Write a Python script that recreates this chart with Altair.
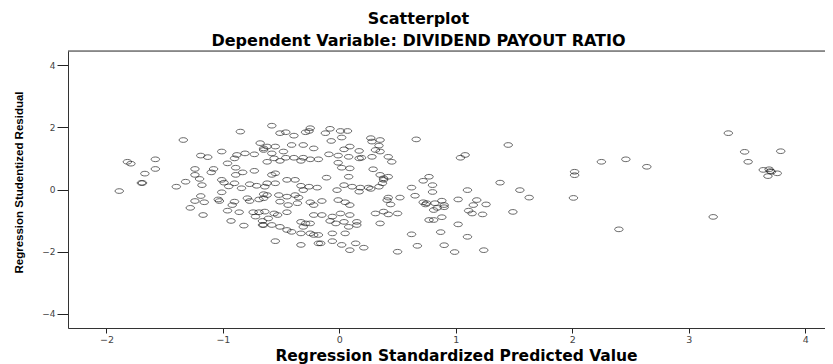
import altair as alt
import pandas as pd

# Regression Standardized Predicted Value
pred = [
    -0.85, -1.34, -1.82, -1.79, -1.58, -1.58, -1.67, -1.70, -1.69, -1.89,
    -1.40, -1.32, -1.19, -1.13, -1.01, -1.24, -1.24, -1.20, -1.18, -1.08,
    -1.10, -1.19, -1.24, -1.16, -1.28, -1.17, -1.01, -0.99, -1.01, -1.04,
    -1.03, -0.92, -0.90, -0.96, -0.86, -0.93, -0.82, -0.96, -0.90, -0.88,
    -0.81, -0.73, -0.89, -0.83, -0.89, -0.73, -0.95, -0.90, -0.84, -0.77,
    -0.71, -0.79, -0.77, -0.69, -0.74, -0.69, -0.72, -0.66, -0.68, -0.65,
    -0.66, -0.65,
    -0.58, -0.51, -0.46, -0.39, -0.25, -0.26, -0.29, -0.08, -0.12, 0.01,
    0.07, -0.07, 0.02, 0.66, 0.27, 0.35, 0.28, 0.34, -0.62, -0.55,
    -0.65, -0.41, -0.31, -0.22, -0.48, -0.58, 0.04, 0.09, 0.17, 0.31,
    0.35, -0.56, -0.46, -0.39, -0.31, -0.25, -0.18, -0.09, -0.01, 0.08,
    0.17, 0.19, 0.28, 0.42, 0.45, -0.51, -0.62, -0.33, -0.01, 0.09,
    0.02, -0.11, 0.08, 0.29, 0.35, 0.38, 0.42, -0.55, -0.58, -0.45,
    -0.38, -0.62, -0.55, -0.64, -0.33, -0.26, -0.19, -0.31, 0.04, 0.11,
    0.18, 0.25, 0.34, 0.37, 0.38, -0.02, 0.17, 0.27, 0.62, 0.72,
    0.77, 0.42, 0.52, 0.44, 0.65, 0.72, 0.74, -0.52, -0.45, -0.38,
    -0.35, -0.62, -0.65, -0.51, -0.44, -0.36, -0.25, -0.22, -0.15, -0.01,
    0.05, 0.09, -0.64, -0.56, -0.61, -0.53, -0.45, -0.65, -0.58, -0.51,
    -0.45, -0.33, -0.29, -0.31, -0.25, -0.22, -0.15, -0.06, 0.01, -0.08,
    -0.03, 0.09, 0.04, 0.15, 0.15, 0.08, 0.31, 0.38, 0.42, 0.50,
    0.35, -0.41, -0.33, -0.25, -0.22, -0.18, -0.06, 0.05, -0.55, -0.33,
    -0.18, -0.16, -0.06, 0.02, 0.14, 0.21, 0.09, 0.50, 0.62, 0.67,
    0.77,
    1.45, 1.04, 1.08, 0.80, 0.80, 1.10, 1.38, 1.55, 1.63, 0.41,
    0.75, 0.82, 0.88, 0.90, 0.90, 1.02, 1.18, 1.15, 1.26, 0.81,
    0.84, 1.11, 1.14, 1.23, 1.49, 0.81, 0.88, 1.02, 0.87, 1.10,
    0.90, 0.99, 1.24,
    3.34, 3.48, 3.51, 3.79, 3.64, 3.69, 3.71, 3.76, 3.68, 3.70,
    3.21, 2.25, 2.46, 2.64, 2.02, 2.02, 2.01, 2.40,
]

# Regression Studentized Residual
resid = [
    1.86, 1.59, 0.89, 0.83, 0.97, 0.66, 0.51, 0.21, 0.21, -0.05,
    0.09, 0.25, 1.09, 1.04, 1.22, 0.66, 0.47, 0.34, 0.14, 0.66,
    0.55, -0.21, -0.37, -0.41, -0.59, -0.82, 0.31, 0.22, -0.09, -0.32,
    -0.37, -0.50, -0.39, -0.68, -0.73, -1.01, -1.16, 0.84, 1.00, 1.11,
    1.16, 1.13, 0.70, 0.55, 0.47, 0.60, 0.10, 0.20, 0.04, 0.17,
    0.12, -0.28, -0.37, -0.32, -0.73, -0.73, -0.87, -1.01, 1.49, 1.32,
    -1.14, -0.15,
    2.05, 1.81, 1.84, 1.73, 1.97, 1.88, 1.84, 1.95, 1.81, 1.88,
    1.88, 1.56, 1.67, 1.61, 1.65, 1.59, 1.54, 1.41, 1.38, 1.38,
    1.27, 1.43, 1.43, 1.32, 1.22, 1.16, 1.29, 1.38, 1.24, 1.27,
    1.22, 1.00, 1.02, 1.02, 1.02, 0.97, 0.97, 1.13, 1.09, 1.05,
    1.00, 1.02, 1.05, 1.05, 0.89, 0.92, 0.89, 0.92, 0.86, 0.68,
    0.70, 0.38, 0.41, 0.65, 0.47, 0.36, 0.41, 0.52, 0.47, 0.31,
    0.31, 0.20, 0.20, 0.09, 0.12, 0.09, 0.06, -0.02, 0.14, 0.09,
    0.06, 0.06, 0.09, 0.20, 0.31, -0.02, -0.07, 0.02, 0.06, 0.28,
    0.41, -0.26, -0.26, -0.48, -0.20, -0.41, -0.48, -0.18, -0.23, -0.18,
    -0.26, -0.18, -0.28, -0.39, -0.50, -0.44, -0.41, -0.50, -0.37, -0.34,
    -0.41, -0.50, -0.71, -0.77, -0.93, -0.82, -0.73, -1.14, -1.14, -1.20,
    -1.30, -1.04, -1.09, -1.20, -1.09, -0.82, -0.82, -0.87, -0.77, -1.01,
    -1.09, -0.82, -1.04, -1.04, -1.14, -1.20, -0.77, -0.71, -0.80, -0.77,
    -1.09, -1.36, -1.41, -1.41, -1.46, -1.46, -1.41, -1.41, -1.66, -1.78,
    -1.73, -1.73, -1.66, -1.78, -1.73, -1.87, -1.95, -2.00, -1.44, -1.81,
    -0.98,
    1.43, 1.02, 1.11, 0.14, -0.08, -0.02, 0.22, -0.02, -0.26, -0.34,
    -0.44, -0.44, -0.36, -0.50, -0.57, -0.32, -0.34, -0.50, -0.48, -0.66,
    -0.59, -0.68, -0.77, -0.80, -0.72, -0.98, -0.89, -1.12, -1.37, -1.52,
    -1.79, -2.01, -1.95,
    1.81, 1.21, 0.89, 1.23, 0.63, 0.65, 0.57, 0.52, 0.43, 0.59,
    -0.88, 0.89, 0.97, 0.73, 0.57, 0.46, -0.27, -1.28,
]

x_ticks = [-2, -1, 0, 1, 2, 3, 4]
y_ticks = [-4, -2, 0, 2, 4]

df = pd.DataFrame({"pred": pred, "resid": resid})

ellipse = "M-1,0A1,0.55,0,1,1,1,0A1,0.55,0,1,1,-1,0Z"

W, H = 757, 277

points = alt.Chart(df).mark_point(
    shape=ellipse, filled=False, size=72, stroke="#111111",
    strokeWidth=1, strokeOpacity=0.9,
).encode(
    x=alt.X("pred:Q",
            scale=alt.Scale(domain=[-2.33, 4.17], nice=False, zero=False),
            axis=alt.Axis(values=x_ticks, title="Regression Standardized Predicted Value",
                          labelFont="DejaVu Sans", labelFontSize=9.5, labelColor="#444444",
                          labelPadding=1, tickSize=5, tickColor="#222222",
                          domainColor="#333333", grid=False,
                          titleFont="DejaVu Sans", titleFontSize=15.5, titleFontWeight="bold",
                          titleColor="#000000", titleX=388, titleY=27,
                          titleAlign="center", titleBaseline="middle", titleAnchor="start")),
    y=alt.Y("resid:Q",
            scale=alt.Scale(domain=[-4.45, 4.45], nice=False, zero=False),
            axis=alt.Axis(values=y_ticks, title="Regression Studentized Residual",
                          labelFont="DejaVu Sans", labelFontSize=9, labelColor="#444444",
                          labelPadding=2, tickSize=11, tickColor="#222222",
                          domainColor="#333333", grid=False,
                          titleFont="Liberation Sans", titleFontSize=11.5, titleFontWeight="bold",
                          titleColor="#000000", titleX=-49, titleY=131, titleAngle=270,
                          titleAlign="center", titleBaseline="middle", titleAnchor="start")),
)

top_border = alt.Chart(pd.DataFrame({"k": [0]})).mark_rule(
    color="#333333", strokeWidth=1
).encode(x=alt.value(0), x2=alt.value(W), y=alt.value(0))

chart = alt.layer(points, top_border).properties(
    width=W, height=H,
    autosize=alt.AutoSizeParams(type="none"),
    padding={"left": 60, "top": 43, "right": 0, "bottom": 36},
    title=alt.TitleParams(
        text=["Scatterplot", "Dependent Variable: DIVIDEND PAYOUT RATIO"],
        font="DejaVu Sans", fontSize=16, fontWeight="bold", color="#000000",
        anchor="middle", frame="group", dx=-28, offset=2, lineHeight=22,
    ),
).configure_view(fill="#efefef", stroke=None).configure(background="#ffffff")

chart.save("out.html", embed_options={"renderer": "svg", "actions": False})
